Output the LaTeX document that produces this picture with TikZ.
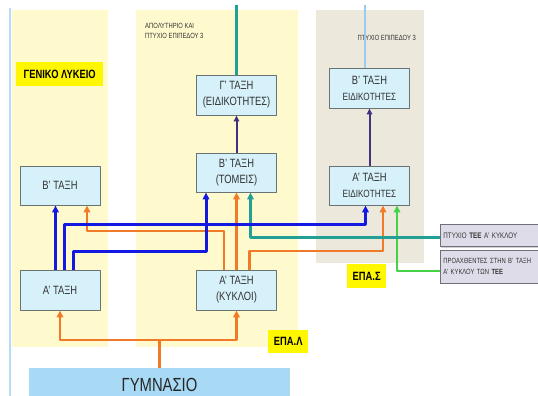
\documentclass[tikz,border=0pt]{standalone}
\usepackage{fontspec}
\setmainfont{Liberation Sans}[FakeStretch=0.78]
\usetikzlibrary{arrows.meta,shadows}
\definecolor{panelY}{RGB}{255,250,206}
\definecolor{panelG}{RGB}{236,233,220}
\definecolor{boxfill}{RGB}{214,241,250}
\definecolor{boxdraw}{RGB}{105,115,118}
\definecolor{gymfill}{RGB}{168,218,245}
\definecolor{sidefill}{RGB}{222,220,232}
\definecolor{sidedraw}{RGB}{110,110,125}
\definecolor{lblY}{RGB}{255,247,0}
\definecolor{cBlue}{RGB}{20,25,225}
\definecolor{cOrange}{RGB}{240,122,40}
\definecolor{cTeal}{RGB}{35,160,150}
\definecolor{cGreen}{RGB}{70,210,70}
\definecolor{cNavy}{RGB}{65,50,125}
\definecolor{cSky}{RGB}{150,205,240}
\definecolor{txt}{RGB}{50,50,50}
\begin{document}
\begin{tikzpicture}[x=1pt,y=-1pt,line join=round,
  stagebox/.style={draw=boxdraw,line width=0.9pt,fill=boxfill,minimum width=80pt,minimum height=39pt,inner sep=0pt,align=center,text=txt,font=\fontsize{12}{16}\selectfont},
  sidebox/.style={draw=sidedraw,line width=0.9pt,fill=sidefill,anchor=west,align=left,inner sep=3pt,text width=94pt,text=txt,font=\fontsize{7.5}{11.5}\selectfont,drop shadow={shadow xshift=1pt,shadow yshift=-1pt,opacity=0.35}},
  lbl/.style={fill=lblY,inner sep=0pt,anchor=north west,font=\bfseries\fontsize{12}{14}\selectfont,text=black},
  note/.style={font=\fontsize{7.5}{10.3}\selectfont,text=txt,align=left,inner sep=0pt},
  tipA/.style={-{Triangle[length=7pt,width=6.5pt]}},
  bline/.style={cBlue,line width=3pt,tipA},
  oline/.style={cOrange,line width=2.7pt},
  tline/.style={cTeal,line width=2.3pt},
  gline/.style={cGreen,line width=2.5pt},
  nline/.style={cNavy,line width=2pt,-{Triangle[length=6pt,width=5.5pt]}}
]
\clip (0,0) rectangle (538,396);
\fill[white] (0,0) rectangle (538,396);
% panels
\fill[panelY] (12,10) rectangle (108,347);
\fill[panelY] (136,10) rectangle (298,347);
\fill[panelG] (316,10) rectangle (424,263);
\draw[cSky!70,line width=1.5pt] (10,8) -- (10,396);
% labels
\node[lbl,minimum width=87pt,minimum height=24pt] (lblGL) at (16,62) {ΓΕΝΙΚΟ ΛΥΚΕΙΟ};
\node[lbl,minimum width=40pt,minimum height=23pt] (lblEPAL) at (268,330) {ΕΠΑ.Λ};
\node[lbl,minimum width=39pt,minimum height=24pt] (lblEPAS) at (347,264) {ΕΠΑ.Σ};
\node[note,anchor=north west] (n1) at (145,23) {ΑΠΟΛΥΤΗΡΙΟ ΚΑΙ\\ΠΤΥΧΙΟ ΕΠΙΠΕΔΟΥ 3};
\node[note,anchor=east] (n2) at (416,38.4) {ΠΤΥΧΙΟ ΕΠΙΠΕΔΟΥ 3};
% boxes
\node[stagebox] (b2L) at (60,185.5) {Β’ ΤΑΞΗ};
\node[stagebox,minimum height=40pt] (a1L) at (60,290) {Α’ ΤΑΞΗ};
\node[stagebox,minimum height=40pt] (g3M) at (236.5,95) {Γ’ ΤΑΞΗ\\(ΕΙΔΙΚΟΤΗΤΕΣ)};
\node[stagebox] (b2M) at (236.5,172.5) {Β’ ΤΑΞΗ\\(ΤΟΜΕΙΣ)};
\node[stagebox,minimum height=40pt] (a1M) at (236.5,290) {Α’ ΤΑΞΗ\\(ΚΥΚΛΟΙ)};
\node[stagebox,minimum height=40pt] (b2R) at (369.5,88) {Β’ ΤΑΞΗ\\{\fontsize{10.5}{14}\selectfont ΕΙΔΙΚΟΤΗΤΕΣ}};
\node[stagebox] (a1R) at (369.5,185.5) {Α’ ΤΑΞΗ\\{\fontsize{10.5}{14}\selectfont ΕΙΔΙΚΟΤΗΤΕΣ}};
\node[fill=gymfill,minimum width=261pt,minimum height=34pt,inner sep=0pt,anchor=north,text=black!85,font=\fontsize{19}{19}\selectfont] (gym) at (159.5,368) {ΓΥΜΝΑΣΙΟ};
\fill[gymfill] (gym.south west) rectangle ([yshift=-6pt]gym.south east);
\node[sidebox,minimum height=22pt,font=\fontsize{8}{11.5}\selectfont] (tee1) at (440,235.5) {ΠΤΥΧΙΟ \textbf{ΤΕΕ} Α’ ΚΥΚΛΟΥ};
\node[sidebox,minimum height=33pt] (tee2) at (440,266.5) {ΠΡΟΑΧΘΕΝΤΕΣ ΣΤΗΝ Β’ ΤΑΞΗ\\Α’ ΚΥΚΛΟΥ ΤΩΝ \textbf{ΤΕΕ}};
% top lines
\coordinate (topM) at (236.5,5);
\coordinate (topR) at (365,5);
\draw[cTeal,line width=2.3pt] (topM) -- (g3M.north);
\draw[cSky,line width=2.5pt] (topR) -- (topR |- b2R.north);
% green
\draw[gline,tipA] ([yshift=-4.5pt]tee2.west) -| ([xshift=27.5pt]a1R.south);
% orange
\draw[oline] (gym.north) -- ++(0,-28) coordinate (split);
\draw[oline,{Triangle[length=7pt,width=6.5pt]}-{Triangle[length=7pt,width=6.5pt]}] (a1L.south) |- (split) -| (a1M.south);
\draw[oline,tipA] ([xshift=-12.5pt]a1M.north) -- ++(0,-38.5) -| ([xshift=27pt]b2L.south);
\draw[oline,tipA] (a1M.north) -- (b2M.south);
\draw[oline,tipA] ([xshift=13pt]a1M.north) -- ++(0,-18.5) -| ([xshift=13.5pt]a1R.south);
% teal
\draw[tline,tipA] ([yshift=-2pt]tee1.west) -| ([xshift=14pt]b2M.south);
% blue
\draw[bline] ([xshift=-4.5pt]a1L.north) -- ([xshift=-4.5pt]b2L.south);
\draw[bline] ([xshift=4pt]a1L.north) -- ++(0,-45) -| ([xshift=-4pt]a1R.south);
\draw[bline] ([xshift=13pt]a1L.north) -- ++(0,-18.5) -| ([xshift=-30.5pt]b2M.south);
% navy
\draw[nline] (b2M.north) -- (g3M.south);
\draw[nline] (a1R.north) -- (b2R.south);
\end{tikzpicture}
\end{document}
